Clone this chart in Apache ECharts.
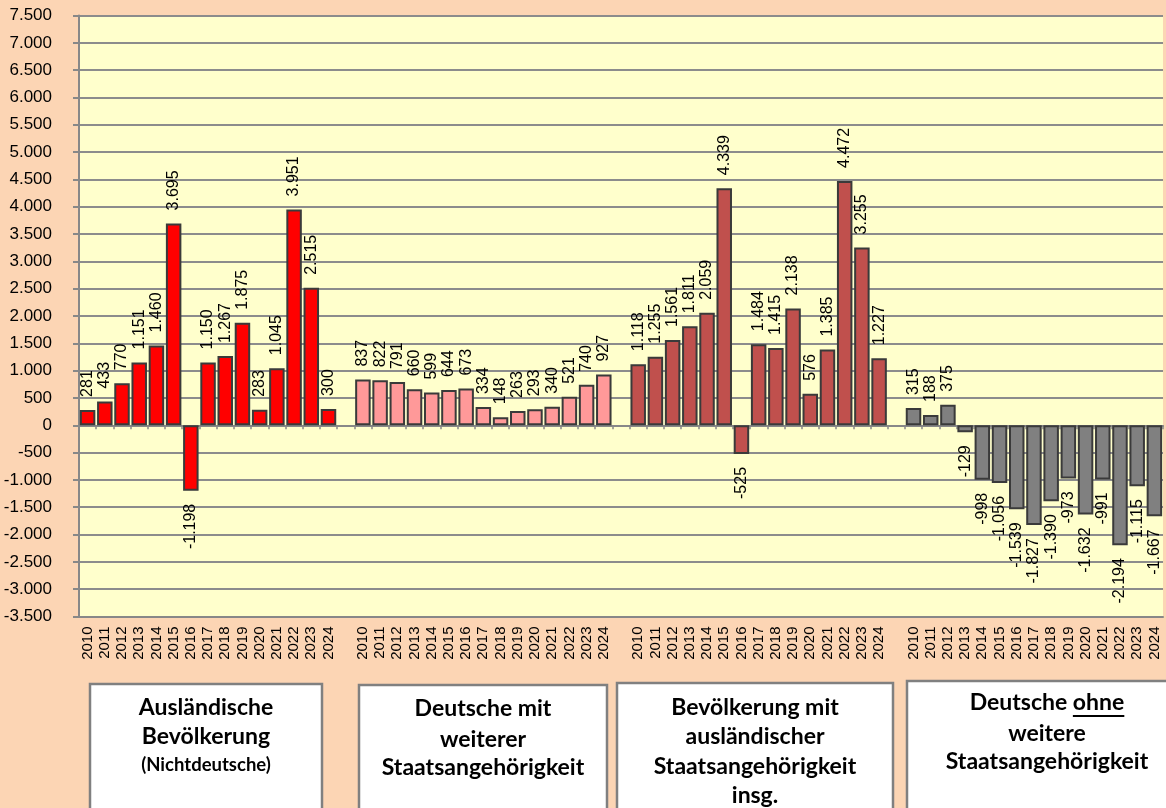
<!DOCTYPE html>
<html>
<head>
<meta charset="utf-8">
<script src="https://cdn.jsdelivr.net/npm/echarts@6/dist/echarts.min.js"></script>
<style>
  body { margin: 0; background: #FCD5B4; }
  #chart { width: 1166px; height: 808px; }
</style>
</head>
<body>
<div id="chart"></div>
<script>
// years per group
const years = ['2010', '2011', '2012', '2013', '2014', '2015', '2016', '2017',
    '2018', '2019', '2020', '2021', '2022', '2023', '2024'];

// Auslaendische Bevoelkerung (Nichtdeutsche)
const auslaender = [281, 433, 770, 1151, 1460, 3695, -1198, 1150, 1267, 1875, 283, 1045, 3951, 2515, 300];
// Deutsche mit weiterer Staatsangehoerigkeit
const mitWeiterer = [837, 822, 791, 660, 599, 644, 673, 334, 148, 263, 293, 340, 521, 740, 927];
// Bevoelkerung mit auslaendischer Staatsangehoerigkeit insg.
const auslInsg = [1118, 1255, 1561, 1811, 2059, 4339, -525, 1484, 1415, 2138, 576, 1385, 4472, 3255, 1227];
// Deutsche ohne weitere Staatsangehoerigkeit
const ohneWeitere = [315, 188, 375, -129, -998, -1056, -1539, -1827, -1390, -973, -1632, -991, -2194, -1115, -1667];

const groups = [auslaender, mitWeiterer, auslInsg, ohneWeitere];
const colors = ['#FF0000', '#FF9999', '#C0504D', '#808080'];

// category axis: 4 blocks of years, one empty slot between blocks
let categories = [];
groups.forEach((g, i) => {
    if (i > 0) categories.push('');
    categories = categories.concat(years);
});

function fmt(v) {
    const s = String(Math.abs(v)).replace(/\B(?=(\d{3})+(?!\d))/g, '.');
    return (v < 0 ? '-' : '') + s;
}

const series = groups.map((g, gi) => {
    const data = [];
    const start = gi * (years.length + 1);
    for (let i = 0; i < categories.length; i++) {
        const k = i - start;
        if (k < 0 || k >= g.length) {
            data.push('-');
            continue;
        }
        const v = g[k];
        if (v < 0) {
            data.push({ value: v, label: { position: 'bottom', align: 'right' } });
        } else {
            data.push(v);
        }
    }
    return {
        type: 'bar',
        data: data,
        barGap: '-100%',
        barCategoryGap: '10%',
        itemStyle: { color: colors[gi], borderColor: '#3A3A3A', borderWidth: 2 },
        label: {
            show: true,
            position: 'top',
            rotate: 90,
            align: 'left',
            verticalAlign: 'middle',
            distance: 13,
            fontSize: 16,
            fontFamily: 'Liberation Sans',
            color: '#000',
            formatter: (p) => fmt(p.value)
        }
    };
});

// text boxes under the chart
const boxes = [
    { x: 90, y: 684, w: 232, lines: [['Ausländische', 708, 23], ['Bevölkerung', 737, 23], ['(Nichtdeutsche)', 765, 18.5]] },
    { x: 359, y: 685, w: 248, lines: [['Deutsche mit', 709, 23], ['weiterer', 740, 23], ['Staatsangehörigkeit', 768, 23]] },
    { x: 617, y: 683, w: 276, lines: [['Bevölkerung mit', 708, 23], ['ausländischer', 737, 23], ['Staatsangehörigkeit', 767, 23], ['insg.', 796, 23]] },
    { x: 907, y: 681, w: 280, lines: [['Deutsche ohne', 703, 23], ['weitere', 734, 23], ['Staatsangehörigkeit', 762, 23]] }
];

const measure = document.createElement('canvas').getContext('2d');
const graphic = [];
boxes.forEach((b) => {
    graphic.push({
        type: 'rect',
        shape: { x: b.x, y: b.y, width: b.w, height: 808 - b.y + 20 },
        style: { fill: '#fff', stroke: '#808080', lineWidth: 2.5 }
    });
    const cx = b.x + b.w / 2;
    b.lines.forEach(([t, y, size]) => {
        graphic.push({
            type: 'text',
            style: {
                text: t, x: cx, y: y,
                align: 'center', verticalAlign: 'middle',
                font: 'bold ' + size + 'px Lato', fill: '#000'
            }
        });
        if (t === 'Deutsche ohne') {
            // underline "ohne"
            measure.font = 'bold ' + size + 'px Lato';
            const full = measure.measureText(t).width;
            const w = measure.measureText('ohne').width;
            const x2 = cx + full / 2;
            graphic.push({
                type: 'line',
                shape: { x1: x2 - w, y1: y + 13, x2: x2, y2: y + 13 },
                style: { stroke: '#000', lineWidth: 2 }
            });
        }
    });
});

const myChart = echarts.init(document.getElementById('chart'));
myChart.setOption({
    animation: false,
    backgroundColor: '#FCD5B4',
    textStyle: { fontFamily: 'Liberation Sans' },
    grid: {
        left: 79, right: 3, top: 15.5, bottom: 191.5,
        show: true, backgroundColor: '#FFFFCC', borderWidth: 0
    },
    xAxis: [{
        type: 'category',
        data: categories,
        position: 'bottom',
        axisLine: { onZero: false, lineStyle: { color: '#888', width: 2 } },
        axisTick: { show: false },
        axisLabel: {
            interval: 0, rotate: 90, margin: 10,
            fontSize: 15, color: '#000', fontFamily: 'Liberation Sans'
        }
    }, {
        type: 'category',
        data: categories,
        position: 'bottom',
        axisLine: { onZero: true, lineStyle: { color: '#888', width: 2 } },
        axisTick: { show: true, interval: 0, length: 4, lineStyle: { color: '#888', width: 1.5 } },
        axisLabel: { show: false }
    }],
    yAxis: {
        type: 'value',
        min: -3500, max: 7500, interval: 500,
        axisLine: { show: true, lineStyle: { color: '#888', width: 2 } },
        axisTick: { show: true, length: 6, lineStyle: { color: '#888', width: 2 } },
        splitLine: { lineStyle: { color: '#8C8C8C', width: 2 } },
        axisLabel: {
            margin: 27, fontSize: 17, color: '#000', fontFamily: 'Liberation Sans',
            formatter: fmt
        }
    },
    series: series,
    graphic: graphic
});
</script>
</body>
</html>
